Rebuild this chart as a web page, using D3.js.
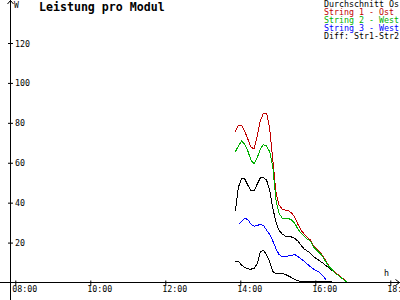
<!DOCTYPE html>
<html>
<head>
<meta charset="utf-8">
<script src="https://cdn.jsdelivr.net/npm/d3@7"></script>
<style>
  body { margin: 0; overflow: hidden; background: #fff; }
  text { font-family: "DejaVu Sans Mono", monospace; }
</style>
</head>
<body>
<script>
const WIDTH = 400
const HEIGHT = 300

const times = ['13:52', '13:57', '14:02', '14:07', '14:12', '14:17', '14:22', '14:27', '14:32', '14:37',
  '14:42', '14:47', '14:52', '14:57', '15:02', '15:07', '15:12', '15:17', '15:22', '15:27',
  '15:32', '15:37', '15:42', '15:47', '15:52', '15:57', '16:02', '16:07', '16:12', '16:17',
  '16:22', '16:27', '16:32', '16:37', '16:42', '16:47', '16:50']

const durchschnitt = [35.8, 47.8, 51.9, 51.9, 48.8, 46.1, 45.8, 49.3, 52.4, 52.5,
  51.4, 46.3, 37.3, 30.3, 26.1, 24.3, 23.3, 22.8, 22.8, 22.1,
  20.8, 18.8, 16.8, 15.8, 14.8, 12.9, 12.0, 10.8, 9.8, 8.5,
  7.3, 6.0, 4.8, 3.8, 2.5, 1.3, 0.5]
const string1 = [75.4, 78.9, 78.9, 75.9, 71.9, 67.9, 66.9, 73.4, 80.9, 84.9,
  84.9, 77.4, 61.4, 45.3, 38.8, 36.8, 36.3, 36.1, 34.8, 32.8,
  29.3, 26.3, 24.3, 22.8, 21.3, 18.3, 16.8, 15.3, 13.3, 10.8,
  8.3, 6.8, 4.8, 3.8, 2.5, 1.3, 0.5]
const string2 = [65.5, 68.4, 70.9, 69.4, 65.9, 61.4, 59.4, 62.4, 66.9, 69.1,
  68.4, 65.5, 57.9, 41.3, 34.6, 32.3, 32.2, 32.1, 31.3, 29.8,
  26.8, 24.8, 23.3, 21.8, 20.8, 17.8, 16.3, 14.8, 12.8, 10.3,
  8.0, 6.5, 4.6, 3.5, 2.2, 1.0, 0.4]
const string3 = [null, 29.1, 30.6, 32.1, 31.6, 29.3, 28.2, 28.6, 29.1, 28.6,
  26.3, 24.0, 20.8, 17.0, 14.0, 12.9, 13.0, 13.3, 13.5, 14.0,
  13.0, 11.8, 10.8, 9.3, 7.9, 6.8, 5.9, 5.0, 3.3, 1.5,
  null, null, null, null, null, null, null]
const diff = [10.4, 10.5, 8.8, 7.5, 6.8, 6.7, 7.0, 9.3, 15.4, 16.0,
  14.0, 10.3, 5.5, 4.5, 4.6, 4.6, 4.0, 3.3, 2.5, 1.5,
  0.9, 0.5, 0.6, 0.6, 0.6, 0.6, 0.6, 0.6, 0.6, 0.6,
  0.6, 0.6, null, null, null, null, null]

const xTicks = ['08:00', '10:00', '12:00', '14:00', '16:00', '18:00']
const yTicks = [20, 40, 60, 80, 100, 120]

const series = [
  { name: 'Durchschnitt Os', values: durchschnitt, color: '#000000' },
  { name: 'String 1 - Ost', values: string1, color: '#c00000' },
  { name: 'String 2 - West', values: string2, color: '#00b000' },
  { name: 'String 3 - West', values: string3, color: '#0000ff' },
  { name: 'Diff: Str1-Str2', values: diff, color: '#000000' }
]

const parseTime = d3.timeParse('%H:%M')

const svg = d3.select('body').append('svg')
  .attr('width', WIDTH)
  .attr('height', HEIGHT)

const x = d3.scaleTime()
  .domain([parseTime('08:00'), parseTime('18:00')])
  .range([15.3, 390.3])
const y = d3.scaleLinear()
  .domain([0, 120])
  .range([282.5, 43])

// axes
const xAxis = svg.append('g')
  .attr('transform', 'translate(0,282.5)')
  .call(d3.axisBottom(x).tickValues(xTicks.map(parseTime)).tickFormat(d3.timeFormat('%H:%M')).tickSizeOuter(0))
xAxis.select('.domain').remove()
xAxis.selectAll('.tick line').attr('y1', -2).attr('y2', 3.5)
xAxis.selectAll('.tick text')
  .attr('text-anchor', 'start').attr('x', -3.5).attr('y', 9.5).attr('dy', null)
  .attr('font-size', 8.3).attr('font-family', '"DejaVu Sans Mono", monospace')

const yAxis = svg.append('g')
  .attr('transform', 'translate(10.5,0)')
  .call(d3.axisLeft(y).tickValues(yTicks).tickSizeOuter(0))
yAxis.select('.domain').remove()
yAxis.selectAll('.tick line').attr('x1', -2.5).attr('x2', 2.5)
yAxis.selectAll('.tick text')
  .attr('text-anchor', 'start').attr('x', 4.5).attr('dy', '0.36em')
  .attr('font-size', 8.3).attr('font-family', '"DejaVu Sans Mono", monospace')

svg.append('line').attr('x1', 0).attr('x2', WIDTH).attr('y1', 282.5).attr('y2', 282.5).attr('stroke', '#000')
svg.append('line').attr('x1', 10.5).attr('x2', 10.5).attr('y1', 0).attr('y2', HEIGHT).attr('stroke', '#000')
svg.append('path').attr('d', 'M395.5,279.5L399.5,282.5L395.5,285.5').attr('fill', 'none').attr('stroke', '#000')
svg.append('path').attr('d', 'M7.5,4L10.5,0.5L13.5,4').attr('fill', 'none').attr('stroke', '#000')

svg.append('text').attr('x', 14).attr('y', 8).attr('font-size', 8).text('W')
svg.append('text').attr('x', 384).attr('y', 276).attr('font-size', 8.3).text('h')

// title
svg.append('text')
  .attr('x', 39).attr('y', 11)
  .attr('font-size', 11.6).attr('font-weight', 'bold')
  .text('Leistung pro Modul')

// lines
const line = d3.line()
  .defined(d => d.v != null)
  .x(d => x(d.t))
  .y(d => y(d.v))

svg.append('g')
  .selectAll('path')
  .data(series)
  .enter()
  .append('path')
  .attr('d', s => line(times.map((t, i) => ({ t: parseTime(t), v: s.values[i] }))))
  .attr('fill', 'none')
  .attr('stroke', s => s.color)
  .attr('stroke-width', 1)
  .attr('shape-rendering', 'crispEdges')

// legend
svg.append('g')
  .selectAll('text')
  .data(series)
  .enter()
  .append('text')
  .attr('x', 324)
  .attr('y', (d, i) => 7 + i * 8)
  .attr('font-size', 8.3)
  .attr('fill', d => d.color)
  .text(d => d.name)
</script>
</body>
</html>
